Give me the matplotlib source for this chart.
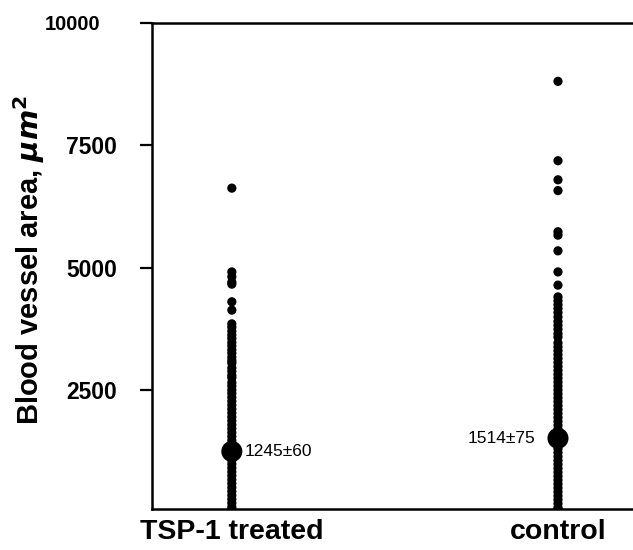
import matplotlib.pyplot as plt
import numpy as np

# Data (blood vessel area, um^2)
groups = ["TSP-1 treated", "control"]
tsp_values = [6620, 4910, 4810, 4700, 4660, 4300, 4130,
              3850, 3780, 3700, 3620, 3550, 3470, 3400, 3320, 3250, 3170, 3100, 3050,
              2950, 2880, 2800, 2750,
              2650, 2580, 2500,
              2430, 2350, 2270, 2190, 2110, 2030, 1950, 1870, 1790, 1710, 1630,
              1550, 1470, 1390, 1310, 1230, 1150, 1070, 990, 910, 830, 750, 670,
              590, 510, 430, 350, 270, 190, 110, 60]
control_values = [8800, 7180, 6790, 6570, 5730, 5660, 5340, 4910, 4640,
                  4400, 4320, 4240, 4160, 4080, 3990, 3900, 3820, 3740, 3650, 3580,
                  3460, 3380, 3300, 3220, 3140, 3060, 2980, 2900, 2820, 2740, 2660,
                  2580, 2500, 2420, 2340, 2260, 2180, 2100, 2020, 1940, 1860, 1780,
                  1700, 1620, 1540, 1460, 1380, 1300, 1220, 1140, 1060, 980, 900,
                  820, 740, 660, 580, 500, 420, 340, 260, 180, 100, 60]
means = [1245, 1514]
mean_labels = ["1245\u00b160", "1514\u00b175"]
yticks = [2500, 5000, 7500, 10000]

plt.rcParams["font.family"] = ["Liberation Sans", "DejaVu Sans"]

fig = plt.figure(figsize=(6.33, 5.50), dpi=100)
ax = fig.add_axes([0.240, 0.0745, 0.760, 0.8845])

for i, vals in enumerate([tsp_values, control_values]):
    ax.scatter(np.full(len(vals), i), vals, s=44, color="black",
               edgecolors="none", zorder=2)
ax.scatter(range(len(means)), means, s=230, color="black",
           edgecolors="none", zorder=3)

# mean labels
ax.annotate(mean_labels[0], (0, means[0]), xytext=(9, 0),
            textcoords="offset points", va="center", ha="left", fontsize=12.5)
ax.annotate(mean_labels[1], (1, means[1]), xytext=(-16, 0),
            textcoords="offset points", va="center", ha="right", fontsize=12.5)

ax.set_xlim(-0.245, 1.23)
ax.set_ylim(70, 10000)
ax.set_xticks(range(len(groups)))
ax.set_xticklabels(groups, fontsize=20.5, fontweight="bold")
ax.tick_params(axis="x", length=0, pad=7)
ax.set_yticks(yticks)
ax.set_yticklabels([str(t) for t in yticks], fontsize=16.5, fontweight="bold")
ax.tick_params(axis="y", length=9, width=1.6, pad=16)
# the 10000 tick runs further out into the top line
top_tick = ax.yaxis.get_major_ticks()[-1]
top_tick.tick1line.set_markersize(27)
top_tick.set_pad(28)
top_tick.label1.set_fontsize(14.5)

ax.set_ylabel(r"Blood vessel area, $\mathbfit{\mu m}^{\mathbf{2}}$",
              fontsize=21, fontweight="bold")
ax.yaxis.set_label_coords(-0.218, 0.512)

for side in ["left", "top", "bottom"]:
    ax.spines[side].set_linewidth(1.8)
ax.spines["right"].set_visible(False)

fig.savefig("out.png", dpi=100)
